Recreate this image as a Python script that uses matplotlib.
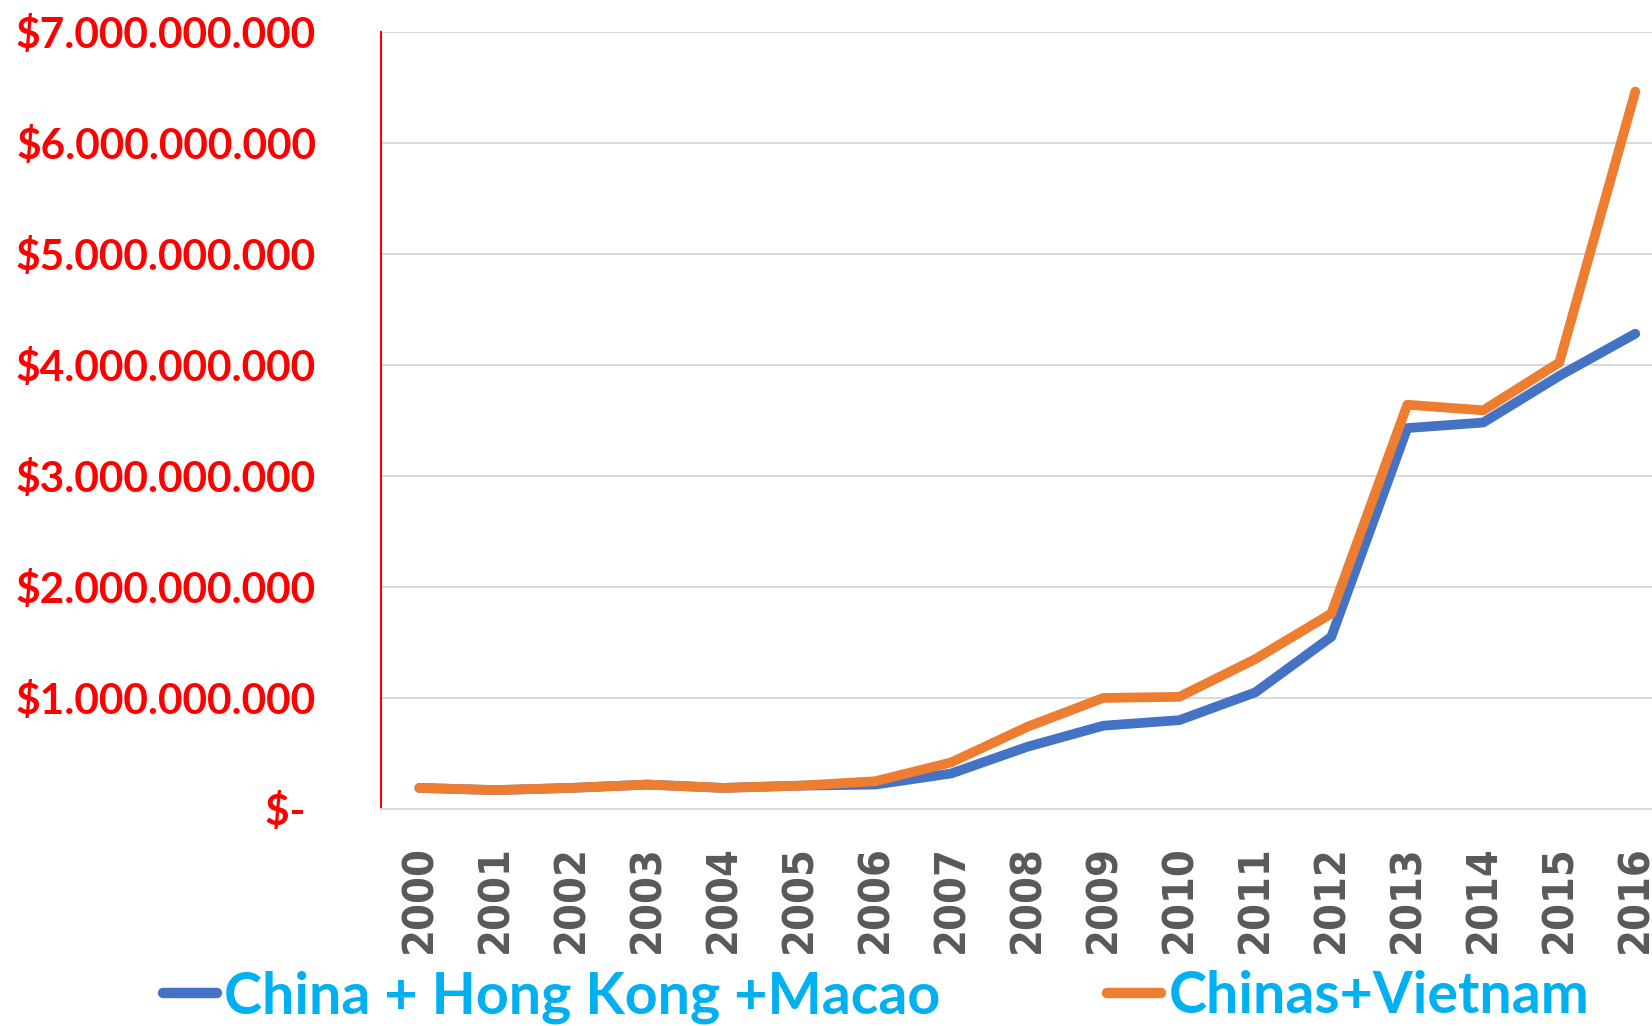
import matplotlib
matplotlib.use("Agg")
import matplotlib.pyplot as plt
from matplotlib.ticker import FixedLocator, FuncFormatter

years = [str(y) for y in range(2000, 2017)]
china_hk_macao = [0.19, 0.17, 0.19, 0.22, 0.19, 0.21, 0.22, 0.32, 0.56, 0.75,
                  0.80, 1.05, 1.55, 3.43, 3.48, 3.90, 4.28]
chinas_vietnam = [0.19, 0.17, 0.19, 0.22, 0.19, 0.21, 0.25, 0.42, 0.74, 1.00,
                  1.01, 1.35, 1.76, 3.64, 3.59, 4.02, 6.46]
series_names = ["China + Hong Kong +Macao", "Chinas+Vietnam"]
y_ticks = [0, 1, 2, 3, 4, 5, 6, 7]  # billions of dollars

BLUE = "#4472C4"
ORANGE = "#ED7D31"
GRID = "#D9D9D9"
LEGEND_TEXT = "#00B0F0"

W, H = 1652, 1026
fig = plt.figure(figsize=(W / 100, H / 100), dpi=100)

# axes: left edge at x=381px, zero line at y=809px, top line at y=31.6px,
# 76px per category (the last half-category runs past the figure edge)
ax_left, ax_bottom, ax_top = 381.3, 809.0, 31.6
ax_width = 17 * 76.0
ax = fig.add_axes([ax_left / W, (H - ax_bottom) / H,
                   ax_width / W, (ax_bottom - ax_top) / H])

x = list(range(len(years)))
ax.plot(x, china_hk_macao, color=BLUE, lw=7, solid_capstyle="round",
        solid_joinstyle="round", label=series_names[0], zorder=3)
ax.plot(x, chinas_vietnam, color=ORANGE, lw=7, solid_capstyle="round",
        solid_joinstyle="round", label=series_names[1], zorder=4)

ax.set_xlim(-0.5, len(years) - 0.5)
ax.set_ylim(0, 7)
ax.yaxis.set_major_locator(FixedLocator(y_ticks))


def dollars(v, pos):
    if v == 0:
        return "$- "
    return "$" + f"{int(round(v * 1e9)):,}".replace(",", ".")


ax.yaxis.set_major_formatter(FuncFormatter(dollars))
ax.set_xticks(x)
ax.set_xticklabels(years)

ax.grid(axis="y", color=GRID, lw=1.4, zorder=0)
ax.set_axisbelow(True)
for side in ("top", "right"):
    ax.spines[side].set_visible(False)
ax.spines["left"].set_color("#FF0000")
ax.spines["left"].set_linewidth(1.5)
ax.spines["bottom"].set_color(GRID)
ax.spines["bottom"].set_linewidth(1.4)

ax.tick_params(axis="y", length=0, pad=47)
ax.tick_params(axis="x", length=0, pad=26)
for lab in ax.get_yticklabels():
    lab.set_fontfamily("Lato")
    lab.set_fontweight("bold")
    lab.set_fontsize(30.5)
    lab.set_color("#FF0000")
for lab in ax.get_xticklabels():
    lab.set_fontfamily("DejaVu Sans")
    lab.set_fontweight("bold")
    lab.set_fontstretch("condensed")
    lab.set_fontsize(31)
    lab.set_color("#595959")
    lab.set_rotation(90)

leg = fig.legend(loc="center left", bbox_to_anchor=(163 / W, 1 - 997 / H),
                 ncol=2, frameon=False, borderpad=0, borderaxespad=0,
                 handlelength=0.95, handletextpad=0.12, columnspacing=2.9,
                 prop={"family": "Lato", "weight": "bold", "size": 41.3},
                 labelcolor=LEGEND_TEXT)
for h in leg.get_lines():
    h.set_linewidth(7.5)
    h.set_solid_capstyle("round")

fig.savefig("out.png", dpi=100)
